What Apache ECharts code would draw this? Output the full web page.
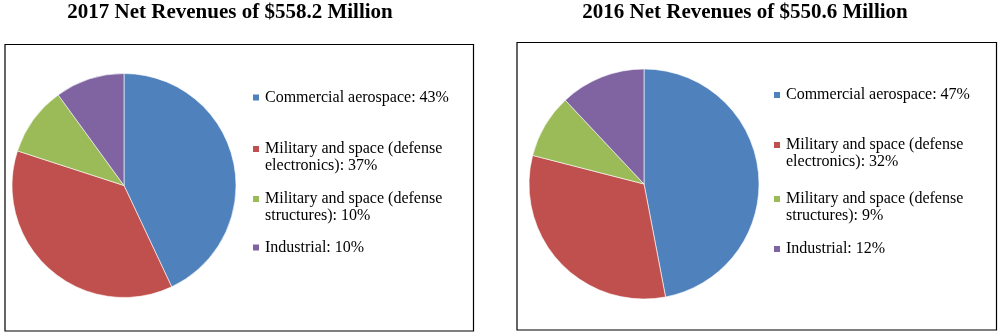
<!DOCTYPE html>
<html>
<head>
<meta charset="utf-8">
<script src="https://cdn.jsdelivr.net/npm/echarts@6/dist/echarts.min.js"></script>
<style>
html,body{margin:0;padding:0;background:#fff;}
#chart{width:1000px;height:334px;}
</style>
</head>
<body>
<div id="chart"></div>
<script>
const categories = ['Commercial aerospace', 'Military and space (defense electronics)', 'Military and space (defense structures)', 'Industrial'];
const values2017 = [43, 37, 10, 10];
const values2016 = [47, 32, 9, 12];
const titles = ['2017 Net Revenues of $558.2 Million', '2016 Net Revenues of $550.6 Million'];
const colors = ['#4F81BD', '#C0504D', '#9BBB59', '#8064A2'];

const FONT = '"Liberation Serif", "Times New Roman", serif';

function wrapName(name) {
  return name.replace('(defense ', '(defense\n');
}

function makeLegends(values, left, tops) {
  return categories.map((c, i) => {
    const twoLine = c.indexOf('(defense ') >= 0;
    return {
      data: [c],
      orient: 'vertical',
      left: left,
      top: tops[i],
      padding: 0,
      icon: 'rect',
      itemWidth: 8,
      itemHeight: 8,
      selectedMode: false,
      formatter: () => (twoLine ? ' \n' : '') + wrapName(c) + ': ' + values[i] + '%',
      textStyle: {
        fontFamily: FONT,
        fontSize: 16,
        lineHeight: 17,
        color: '#000'
      }
    };
  });
}

const legends = [].concat(
  makeLegends(values2017, 251, [89, 123.5, 173.5, 239]),
  makeLegends(values2016, 772, [86.5, 119.5, 173.5, 240.5])
);

function pieData(values) {
  return categories.map((c, i) => ({ name: c, value: values[i], itemStyle: { color: colors[i] } }));
}

const option = {
  animation: false,
  backgroundColor: '#fff',
  title: [
    { text: titles[0], left: 230, textAlign: 'center', top: 2, padding: 0,
      textStyle: { fontFamily: FONT, fontSize: 21, fontWeight: 'bold', color: '#000' } },
    { text: titles[1], left: 745, textAlign: 'center', top: 2, padding: 0,
      textStyle: { fontFamily: FONT, fontSize: 21, fontWeight: 'bold', color: '#000' } }
  ],
  legend: legends,
  graphic: [
    { type: 'rect', shape: { x: 5, y: 44.5, width: 468.5, height: 286.5 },
      style: { fill: 'none', stroke: '#000', lineWidth: 1.2 }, silent: true },
    { type: 'rect', shape: { x: 517, y: 42.5, width: 479.5, height: 287.5 },
      style: { fill: 'none', stroke: '#000', lineWidth: 1.2 }, silent: true }
  ],
  series: [
    {
      type: 'pie', center: [124, 185.5], radius: 112, startAngle: 90, clockwise: true,
      label: { show: false }, labelLine: { show: false }, silent: true,
      itemStyle: { borderColor: '#fff', borderWidth: 0.6 },
      data: pieData(values2017)
    },
    {
      type: 'pie', center: [644, 184], radius: 115, startAngle: 90, clockwise: true,
      label: { show: false }, labelLine: { show: false }, silent: true,
      itemStyle: { borderColor: '#fff', borderWidth: 0.6 },
      data: pieData(values2016)
    }
  ]
};

const chart = echarts.init(document.getElementById('chart'), null, { renderer: 'canvas' });
chart.setOption(option);
</script>
</body>
</html>
